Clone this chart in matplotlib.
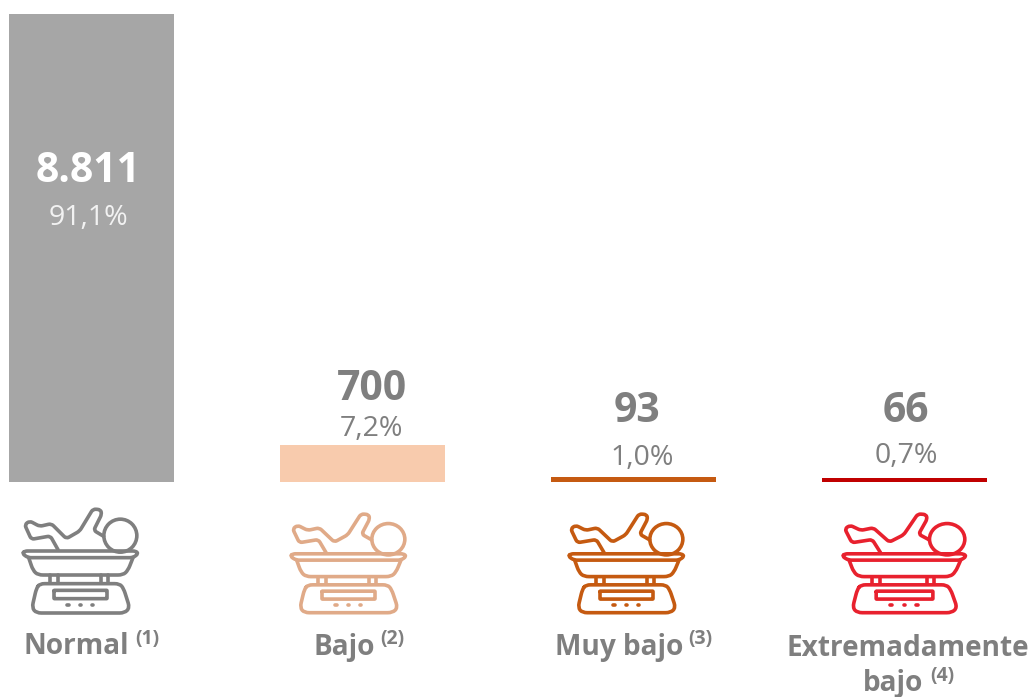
import matplotlib
matplotlib.use("Agg")
import matplotlib.pyplot as plt
from matplotlib.patches import Ellipse, PathPatch
from matplotlib.path import Path
import math

plt.rcParams['font.family'] = ['Open Sans', 'DejaVu Sans']

categories = ["Normal", "Bajo", "Muy bajo", "Extremadamente\nbajo"]
notes = ["(1)", "(2)", "(3)", "(4)"]
counts = [8811, 700, 93, 66]
count_labels = ["8.811", "700", "93", "66"]
pct_labels = ["91,1%", "7,2%", "1,0%", "0,7%"]
bar_colors = ["#a6a6a6", "#f8cbad", "#c55a11", "#c00000"]
icon_colors = ["#7f7f7f", "#e0aa88", "#c55a11", "#e8212e"]

W, H = 1032, 697
GREY = "#7f7f7f"
fig = plt.figure(figsize=(W / 100, H / 100), dpi=100, facecolor="white")

# bar axes: category spacing and value scale mapped on to the figure
step = 270.9
c0 = 91.5
scale = 468 / 8811
base_y = 482
ax = fig.add_axes([0, 0, 1, 1])
ax.set_xlim(-c0 / step, (W - c0) / step)
ax.set_ylim(-(H - base_y) / scale, (base_y) / scale)
ax.axis("off")
ax.bar(range(4), counts, width=165 / step, color=bar_colors, linewidth=0)

# overlay in pixel coordinates for text and icons
ov = fig.add_axes([0, 0, 1, 1])
ov.set_xlim(0, W)
ov.set_ylim(H, 0)
ov.axis("off")
ov.patch.set_alpha(0)

BODY = [(175,178),(152,137),(95,147),(75,103),(90,92),(120,108),(155,100),(200,145),
        (240,122),(280,56),(303,58),(306,72),(282,120),(312,138)]
RIM = [(75,182),(408,182),(416,190),(400,202),(85,202),(68,190)]
BOWL = [(87,202),(100,240),(115,254),(370,254),(385,240),(400,202)]
BASE = [(120,280),(360,280),(372,295),(390,352),(375,368),(110,368),(97,352),(110,295)]
DISPLAY = [(163,300),(322,300),(322,325),(163,325)]
LEGS = [152, 175, 305, 325]
DOTS = [205, 242, 278]


def rounded(pts, closed, radius):
    n = len(pts)
    verts, codes = [], []
    idx = range(n) if closed else range(1, n - 1)

    def toward(a, b, r):
        d = math.hypot(b[0] - a[0], b[1] - a[1])
        t = min(r, d / 2) / d if d else 0
        return (a[0] + (b[0] - a[0]) * t, a[1] + (b[1] - a[1]) * t)
    if not closed:
        verts.append(pts[0])
        codes.append(Path.MOVETO)
    for i in idx:
        p, a, b = pts[i], pts[i - 1], pts[(i + 1) % n]
        s, e = toward(p, a, radius), toward(p, b, radius)
        codes.append(Path.LINETO if verts else Path.MOVETO)
        verts.append(s)
        verts += [p, e]
        codes += [Path.CURVE3, Path.CURVE3]
    verts.append(verts[0] if closed else pts[-1])
    codes.append(Path.LINETO)
    return Path(verts, codes)


def draw_icon(x0, y0, sx, sy, color):
    def T(p):
        return x0 + (p[0] - 70) / 3 * sx, y0 + (p[1] - 50) / 3 * sy
    lw = 2.6
    kw = dict(color=color, lw=lw, solid_joinstyle="round", solid_capstyle="round")
    for path, closed, r in ((BODY, False, 3), (RIM, True, 3), (BOWL, False, 5),
                            (BASE, True, 5), (DISPLAY, True, 0.5)):
        pp = rounded([T(p) for p in path], closed, r)
        ov.add_patch(PathPatch(pp, fill=False, edgecolor=color, lw=lw, joinstyle="round", capstyle="round"))
    for lx in LEGS:
        a, b = T((lx, 255)), T((lx, 278))
        ov.plot([a[0], b[0]], [a[1], b[1]], **kw)
    for dx in DOTS:
        a = T((dx - 2, 343))
        b = T((dx + 2, 343))
        ov.plot([a[0], b[0]], [a[1], b[1]], **kw)
    cx, cy = T((362, 136))
    ov.add_patch(Ellipse((cx, cy), 33 * sx, 33 * sy, fill=False, edgecolor=color, lw=lw))


# icon placement: left, top, x stretch, y stretch
icon_boxes = [(23, 507, 1.0, 1.0), (291, 512, 1.0, 0.95), (569, 512, 1.0, 0.95), (843, 512, 1.07, 0.95)]
for box, col in zip(icon_boxes, icon_colors):
    draw_icon(*box, col)

# value labels
count_y = [172, 390, 412, 412]
pct_y = [218, 429, 458, 456]
count_x = [88, 372, 637, 906]
pct_x = [88, 371, 642, 906]
for i in range(4):
    col = "white" if i == 0 else GREY
    pcol = "#f2f2f2" if i == 0 else GREY
    ov.text(count_x[i], count_y[i], count_labels[i], ha="center", va="center",
            fontsize=29.4, fontweight="bold", color=col)
    ov.text(pct_x[i], pct_y[i], pct_labels[i], ha="center", va="center",
            fontsize=20.5, color=pcol)

# category labels with superscript notes
LAB = dict(ha="left", va="center", fontsize=20.2, fontweight="bold", color=GREY)
NOTE = dict(ha="left", va="center", fontsize=14, fontweight="bold", color=GREY)
ov.text(24, 647, "Normal", **LAB)
ov.text(135, 639, notes[0], **NOTE)
ov.text(314, 647, "Bajo", **LAB)
ov.text(380, 639, notes[1], **NOTE)
ov.text(555, 647, "Muy bajo", **LAB)
ov.text(688, 639, notes[2], **NOTE)
ov.text(908, 648, categories[3].split("\n")[0], ha="center", va="center", fontsize=20.2, fontweight="bold", color=GREY)
ov.text(863, 683, categories[3].split("\n")[1], **LAB)
ov.text(930, 676, notes[3], **NOTE)

fig.savefig("out.png", dpi=100, facecolor="white")
